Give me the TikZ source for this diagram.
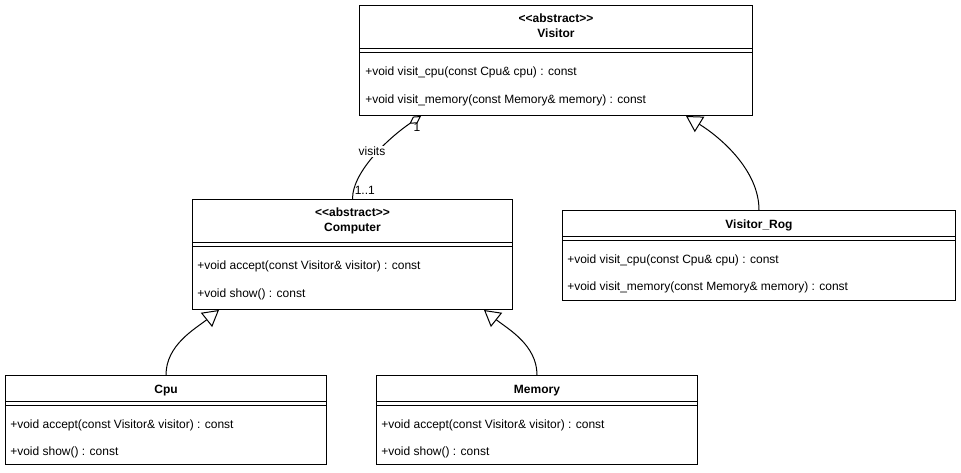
\documentclass[tikz,border=0pt]{standalone}
\usepackage{fontspec}
\setmainfont{Liberation Sans}
\usetikzlibrary{calc,arrows.meta}
\begin{document}
\begin{tikzpicture}[x=0.75pt,y=-0.75pt,
  every node/.style={font=\fontsize{9pt}{11pt}\selectfont},
  umlbox/.style={draw=black,line width=0.75pt,anchor=north west,inner sep=0pt,fill=white},
  meth/.style={anchor=base west,inner sep=0pt},
  ttl/.style={anchor=base,inner sep=0pt,font=\fontsize{9pt}{11pt}\selectfont\bfseries},
  lbl/.style={inner sep=0pt},
  sep/.style={line width=0.75pt},
  conn/.style={line width=0.75pt},
  inherit/.style={conn,-{Triangle[open,length=12pt,width=13.5pt]}},
  aggr/.style={conn,-{Diamond[open,length=10.5pt,width=6pt]}}
]
\useasboundingbox[fill=white] (0,0) rectangle (961,473);

% Visitor
\node[umlbox,minimum width=393*0.75pt,minimum height=110*0.75pt] (visitor) at (359,5) {};
\node[ttl] (visitorS) at ($(visitor.north)+(0,17.8)$) {<{}<abstract>{}>};
\node[ttl] (visitorT) at ($(visitor.north)+(0,32.5)$) {Visitor};
\draw[sep] ($(visitor.north west)+(0,44)$) -- ($(visitor.north east)+(0,44)$);
\draw[sep] ($(visitor.north west)+(0,48)$) -- ($(visitor.north east)+(0,48)$);
\node[meth] (visitorM1) at ($(visitor.north west)+(6,71)$) {+void visit\_cpu(const Cpu\& cpu) : const};
\node[meth] (visitorM2) at ($(visitor.north west)+(6,99)$) {+void visit\_memory(const Memory\& memory) : const};

% Computer
\node[umlbox,minimum width=320*0.75pt,minimum height=110*0.75pt] (computer) at (192,199) {};
\node[ttl] (computerS) at ($(computer.north)+(0,17.8)$) {<{}<abstract>{}>};
\node[ttl] (computerT) at ($(computer.north)+(0,32.5)$) {Computer};
\draw[sep] ($(computer.north west)+(0,44)$) -- ($(computer.north east)+(0,44)$);
\draw[sep] ($(computer.north west)+(0,48)$) -- ($(computer.north east)+(0,48)$);
\node[meth] (computerM1) at ($(computer.north west)+(5,70.5)$) {+void accept(const Visitor\& visitor) : const};
\node[meth] (computerM2) at ($(computer.north west)+(5,98.5)$) {+void show() : const};

% Visitor_Rog
\node[umlbox,minimum width=393*0.75pt,minimum height=90*0.75pt] (rog) at (562,210) {};
\node[ttl] (rogT) at ($(rog.north)+(0,18.3)$) {Visitor\_Rog};
\draw[sep] ($(rog.north west)+(0,27)$) -- ($(rog.north east)+(0,27)$);
\draw[sep] ($(rog.north west)+(0,31)$) -- ($(rog.north east)+(0,31)$);
\node[meth] (rogM1) at ($(rog.north west)+(5,54)$) {+void visit\_cpu(const Cpu\& cpu) : const};
\node[meth] (rogM2) at ($(rog.north west)+(5,81)$) {+void visit\_memory(const Memory\& memory) : const};

% Cpu
\node[umlbox,minimum width=321*0.75pt,minimum height=89*0.75pt] (cpu) at (5,375) {};
\node[ttl] (cpuT) at ($(cpu.north)+(0,18.3)$) {Cpu};
\draw[sep] ($(cpu.north west)+(0,27)$) -- ($(cpu.north east)+(0,27)$);
\draw[sep] ($(cpu.north west)+(0,31)$) -- ($(cpu.north east)+(0,31)$);
\node[meth] (cpuM1) at ($(cpu.north west)+(5,53.5)$) {+void accept(const Visitor\& visitor) : const};
\node[meth] (cpuM2) at ($(cpu.north west)+(5,80.5)$) {+void show() : const};

% Memory
\node[umlbox,minimum width=321*0.75pt,minimum height=89*0.75pt] (memory) at (376,375) {};
\node[ttl] (memoryT) at ($(memory.north)+(0,18.3)$) {Memory};
\draw[sep] ($(memory.north west)+(0,27)$) -- ($(memory.north east)+(0,27)$);
\draw[sep] ($(memory.north west)+(0,31)$) -- ($(memory.north east)+(0,31)$);
\node[meth] (memoryM1) at ($(memory.north west)+(5,53.5)$) {+void accept(const Visitor\& visitor) : const};
\node[meth] (memoryM2) at ($(memory.north west)+(5,80.5)$) {+void show() : const};

% Connectors
\draw[inherit] (rog.north) .. controls +(0,-40) and +(34,21) .. ($(visitor.south west)+(327,0)$);
\draw[inherit] (memory.north) .. controls +(0,-30) and +(24,19) .. ($(computer.south west)+(292,0)$);
\draw[inherit] (cpu.north) .. controls +(0,-30) and +(-24,19) .. ($(computer.south west)+(27,0)$);
\draw[aggr] (computer.north) .. controls +(0,-29) and +(-29,19.5) .. ($(visitor.south west)+(62,0)$);

\node[lbl,fill=white,inner sep=1pt] (visits) at (372,151.5) {visits};
\node[lbl,anchor=base west] (mult1) at ($(computer.north)+(2,-4)$) {1..1};
\node[lbl,anchor=base] (mult2) at ($(visitor.south west)+(58,16)$) {1};
\end{tikzpicture}
\end{document}
